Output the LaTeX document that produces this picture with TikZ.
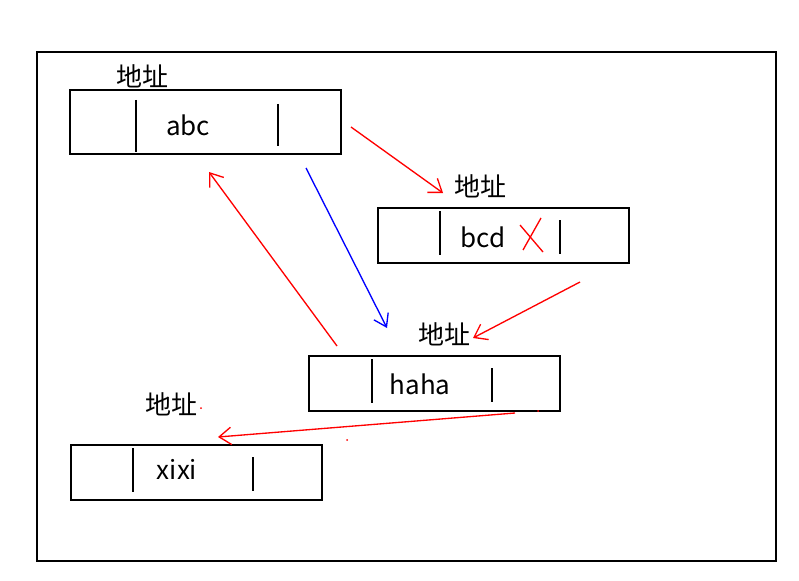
\documentclass[tikz,border=0pt]{standalone}
\usepackage{fontspec}
\setmainfont{Noto Sans CJK SC}
\usetikzlibrary{arrows.meta}

\begin{document}
\begin{tikzpicture}[x=0.75pt,y=-0.75pt]
\useasboundingbox (0,0) rectangle (799,581);
\draw[line width=0.8pt] (37,52) rectangle (776,561);
% abc
\draw[line width=0.8pt] (70,90) rectangle (341,154);
\draw[line width=0.8pt] (136,100) -- (136,152);
\draw[line width=0.8pt] (278,104) -- (278,146);
\node[font=\fontsize{19.5}{19.5}\selectfont] (addrA) at (142,76) {地址};
\node[font=\fontsize{19.5}{19.5}\selectfont] (abc) at (188,125) {abc};
% bcd
\draw[line width=0.8pt] (378,208) rectangle (629,263);
\draw[line width=0.8pt] (440,211) -- (440,255);
\draw[line width=0.8pt] (560,220) -- (560,254);
\node[font=\fontsize{19.5}{19.5}\selectfont] (addrB) at (480,186) {地址};
\node[font=\fontsize{19.5}{19.5}\selectfont] (bcd) at (483,237) {bcd};
\draw[red, line width=1pt] (520,225) -- (543,252);
\draw[red, line width=1pt] (541,218) -- (523,250);
% haha
\draw[line width=0.8pt] (309,356) rectangle (560,411);
\draw[line width=0.8pt] (372,359) -- (372,403);
\draw[line width=0.8pt] (492,368) -- (492,402);
\node[font=\fontsize{19.5}{19.5}\selectfont] (addrC) at (444,334) {地址};
\node[font=\fontsize{19.5}{19.5}\selectfont] (haha) at (420,384) {haha};
% xixi
\draw[line width=0.8pt] (71,445) rectangle (322,500);
\draw[line width=0.8pt] (133,448) -- (133,492);
\draw[line width=0.8pt] (253,457) -- (253,491);
\node[font=\fontsize{19.5}{19.5}\selectfont] (addrD) at (171,404) {地址};
\node[font=\fontsize{19.5}{19.5}\selectfont] (xixi) at (177,469) {xixi};
% arrows
\coordinate (p1) at (351,127);
\coordinate (q1) at (443,193);
\coordinate (p2) at (306,168);
\coordinate (q2) at (387,328);
\coordinate (p3) at (580,282);
\coordinate (q3) at (473,338);
\coordinate (p4) at (337,346);
\coordinate (q4) at (209,172);
\coordinate (p5) at (515,413);
\coordinate (q5) at (218,437);
\draw[red, line width=1pt, -{Straight Barb[length=9pt, width=13pt]}] (p1) -- (q1);
\draw[blue, line width=1pt, -{Straight Barb[length=9pt, width=12pt]}] (p2) -- (q2);
\draw[red, line width=1pt, -{Straight Barb[length=9pt, width=13pt]}] (p3) -- (q3);
\draw[red, line width=1pt, -{Straight Barb[length=9pt, width=13pt]}] (p4) -- (q4);
\draw[red, line width=1pt, -{Straight Barb[length=9pt, width=13pt]}] (p5) -- (q5);
% stray marks
\fill[red] (201,408) circle (1);
\fill[red] (347,440) circle (1);
\fill[red] (538,411) circle (1);
\end{tikzpicture}
\end{document}
